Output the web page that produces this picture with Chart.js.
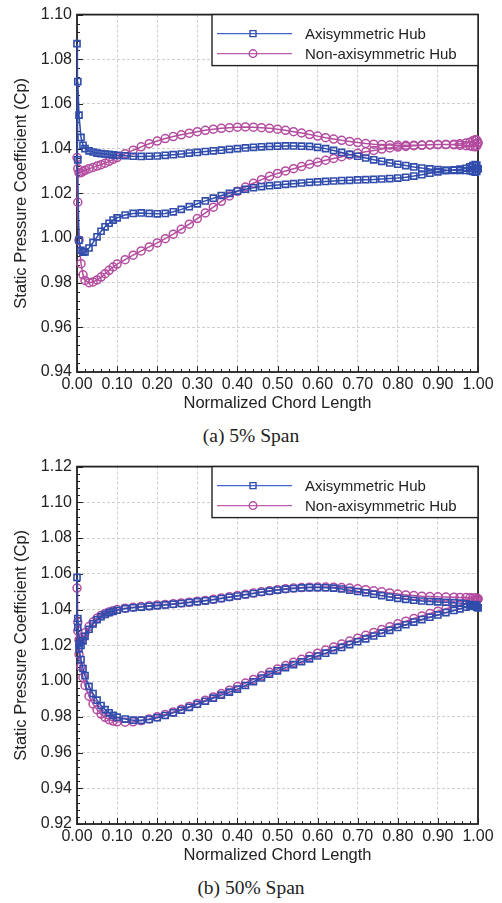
<!DOCTYPE html>
<html>
<head>
<meta charset="utf-8">
<script src="https://cdn.jsdelivr.net/npm/chart.js@4"></script>
<style>
  body { margin: 0; background: #fff; }
  .wrap { position: relative; width: 502px; height: 903px; }
  canvas { position: absolute; left: 0; }
  .caption {
    position: absolute; left: 0; width: 502px; text-align: center;
    font-family: "Liberation Serif", "Times New Roman", serif;
    font-size: 19.5px; color: #222; line-height: 22px;
  }
</style>
</head>
<body>
<div class="wrap">
  <canvas id="span5" width="502" height="420" style="top:0"></canvas>
  <div class="caption" style="top:425px">(a) 5% Span</div>
  <canvas id="span50" width="502" height="420" style="top:452px"></canvas>
  <div class="caption" style="top:877px">(b) 50% Span</div>
</div>
<script>
// chord stations (x/c), clustered at leading and trailing edge
const chord = [
  0, 0.002, 0.005, 0.01, 0.015, 0.02, 0.03, 0.04, 0.05, 0.06, 0.07, 0.08, 0.09,
  0.10, 0.12, 0.14, 0.16, 0.18, 0.20, 0.22, 0.24, 0.26, 0.28, 0.30, 0.32, 0.34,
  0.36, 0.38, 0.40, 0.42, 0.44, 0.46, 0.48, 0.50, 0.52, 0.54, 0.56, 0.58, 0.60,
  0.62, 0.64, 0.66, 0.68, 0.70, 0.72, 0.74, 0.76, 0.78, 0.80, 0.82, 0.84, 0.86,
  0.88, 0.90, 0.92, 0.94, 0.955, 0.97, 0.98, 0.987, 0.993, 0.997, 1.0
];

// 5% span - axisymmetric hub
const axi5Upper = [
  1.087, 1.070, 1.055, 1.045, 1.0415, 1.040, 1.039, 1.0385, 1.038, 1.0378, 1.0376, 1.0374, 1.0372,
  1.037, 1.0368, 1.0366, 1.0365, 1.0366, 1.0367, 1.037, 1.0373, 1.0376, 1.038, 1.0383, 1.0387, 1.039,
  1.0393, 1.0397, 1.040, 1.0403, 1.0406, 1.0408, 1.041, 1.0411, 1.0412, 1.0412, 1.0411, 1.041, 1.0406,
  1.040, 1.0392, 1.0383, 1.0374, 1.0366, 1.0358, 1.035, 1.0343, 1.0336, 1.033, 1.0324, 1.0318, 1.0313,
  1.0309, 1.0306, 1.0304, 1.0303, 1.0302, 1.0302, 1.0301, 1.0298, 1.0295, 1.0298, 1.031
];
const axi5Lower = [
  1.087, 1.035, 0.999, 0.9945, 0.9937, 0.9938, 0.9955, 0.998, 1.0005, 1.003, 1.005, 1.0066, 1.008,
  1.009, 1.0103, 1.011, 1.0112, 1.011, 1.0108, 1.011, 1.0117, 1.0128, 1.014, 1.0153, 1.0166, 1.0178,
  1.019, 1.020, 1.021, 1.0218, 1.0225, 1.023, 1.0234, 1.0237, 1.024, 1.0243, 1.0246, 1.0249, 1.0251,
  1.0253, 1.0255, 1.0257, 1.0258, 1.026, 1.0261, 1.0262, 1.0264, 1.0266, 1.0268, 1.0272, 1.0277, 1.0283,
  1.029, 1.0296, 1.0301, 1.0305, 1.0308, 1.0312, 1.0318, 1.0324, 1.0328, 1.0326, 1.031
];

// 5% span - non-axisymmetric hub
const non5Upper = [
  1.036, 1.031, 1.0292, 1.0292, 1.0298, 1.0303, 1.031, 1.0316, 1.0322, 1.0328, 1.0335, 1.0343, 1.0352,
  1.036, 1.0377, 1.0393, 1.0408, 1.0422, 1.0434, 1.0445, 1.0454, 1.0462, 1.0469, 1.0476, 1.0482, 1.0487,
  1.0491, 1.0494, 1.0496, 1.0497, 1.0496, 1.0494, 1.0491, 1.0487, 1.0482, 1.0476, 1.047, 1.0463, 1.0456,
  1.0449, 1.0443, 1.0437, 1.0432, 1.0427, 1.0423, 1.042, 1.0418, 1.0416, 1.0415, 1.0415, 1.0415, 1.0416,
  1.0417, 1.0418, 1.0419, 1.042, 1.0422, 1.0425, 1.0429, 1.0435, 1.044, 1.0438, 1.0426
];
const non5Lower = [
  1.036, 1.016, 0.999, 0.9885, 0.9835, 0.981, 0.980, 0.9803, 0.9812, 0.9825, 0.984, 0.9855, 0.987,
  0.9883, 0.9903, 0.9923, 0.9942, 0.996, 0.9978, 0.9997, 1.0017, 1.0039, 1.0062, 1.0087, 1.0112, 1.0138,
  1.0164, 1.0188, 1.0209, 1.0228, 1.0245, 1.0261, 1.0276, 1.0289, 1.030, 1.031, 1.032, 1.033, 1.0339,
  1.0348, 1.0356, 1.0364, 1.0372, 1.0379, 1.0386, 1.0392, 1.0398, 1.0403, 1.0407, 1.041, 1.0413, 1.0415,
  1.0417, 1.0418, 1.0418, 1.0417, 1.0415, 1.0413, 1.0412, 1.041, 1.0408, 1.0412, 1.0426
];

// 50% span - axisymmetric hub
const axi50Upper = [
  1.058, 1.035, 1.021, 1.020, 1.0225, 1.025, 1.029, 1.032, 1.0343, 1.036, 1.0373, 1.0383, 1.039,
  1.0396, 1.0405, 1.041, 1.0414, 1.0418, 1.0422, 1.0426, 1.043, 1.0434, 1.0439, 1.0444, 1.0449, 1.0455,
  1.0462, 1.0469, 1.0476, 1.0483, 1.049, 1.0497, 1.0503, 1.0509, 1.0514, 1.0518, 1.0521, 1.0523, 1.0523,
  1.0522, 1.052, 1.0515, 1.0508, 1.0501, 1.0494, 1.0486, 1.0478, 1.047, 1.0463, 1.0457, 1.0452, 1.0448,
  1.0445, 1.0443, 1.0441, 1.0439, 1.0436, 1.0432, 1.0428, 1.0424, 1.0418, 1.0413, 1.041
];
const axi50Lower = [
  1.058, 1.030, 1.018, 1.012, 1.007, 1.003, 0.997, 0.993, 0.9893, 0.9863, 0.984, 0.9822, 0.9808,
  0.9798, 0.9787, 0.9781, 0.978, 0.9785, 0.9795, 0.9807, 0.9822, 0.9837, 0.9853, 0.987, 0.9887, 0.9904,
  0.9921, 0.9938, 0.9955, 0.9975, 0.9996, 1.0017, 1.0038, 1.0057, 1.0075, 1.0092, 1.0108, 1.0124, 1.014,
  1.0156, 1.0172, 1.0188, 1.0204, 1.022, 1.0236, 1.0252, 1.0268, 1.0284, 1.030, 1.0315, 1.033, 1.0344,
  1.0357, 1.037, 1.0383, 1.0395, 1.0404, 1.0413, 1.0419, 1.0424, 1.0427, 1.0423, 1.041
];

// 50% span - non-axisymmetric hub
const non50Upper = [
  1.052, 1.033, 1.023, 1.022, 1.0245, 1.027, 1.0305, 1.033, 1.0352, 1.0367, 1.0378, 1.0387, 1.0394,
  1.040, 1.0408, 1.0413, 1.0417, 1.0421, 1.0425, 1.0429, 1.0433, 1.0437, 1.0441, 1.0446, 1.0451, 1.0457,
  1.0464, 1.0471, 1.0478, 1.0485, 1.0492, 1.0499, 1.0505, 1.0511, 1.0516, 1.052, 1.0523, 1.0525, 1.0526,
  1.0526, 1.0525, 1.0523, 1.052, 1.0516, 1.0511, 1.0505, 1.0499, 1.0493, 1.0487, 1.0482, 1.0478, 1.0475,
  1.0473, 1.0471, 1.047, 1.0469, 1.0468, 1.0467, 1.0466, 1.0465, 1.0465, 1.0463, 1.046
];
const non50Lower = [
  1.052, 1.028, 1.015, 1.008, 1.002, 0.9975, 0.9915, 0.9872, 0.984, 0.9815, 0.9797, 0.9784, 0.9776,
  0.9772, 0.977, 0.9772, 0.9778, 0.9788, 0.980, 0.9813, 0.9827, 0.9842, 0.9858, 0.9875, 0.9893, 0.9911,
  0.993, 0.9949, 0.9969, 0.9989, 1.0009, 1.0029, 1.0049, 1.0068, 1.0087, 1.0105, 1.0122, 1.0139, 1.0156,
  1.0173, 1.019, 1.0207, 1.0224, 1.024, 1.0256, 1.0272, 1.0288, 1.0304, 1.032, 1.0335, 1.035, 1.0364,
  1.0378, 1.0391, 1.0404, 1.0416, 1.0425, 1.0434, 1.044, 1.0446, 1.045, 1.0455, 1.046
];

const seriesNames = ["Axisymmetric Hub", "Non-axisymmetric Hub"];
const BLUE = "rgb(48, 76, 172)";
const MAGENTA = "rgb(180, 76, 160)";
const FONT = '"Liberation Sans", Arial, sans-serif';

// closed loop around the blade: TE -> upper -> LE -> lower -> TE
function loop(upper, lower) {
  const pts = [];
  for (let i = upper.length - 1; i >= 0; i--) pts.push({ x: chord[i], y: upper[i] });
  for (let i = 1; i < lower.length; i++) pts.push({ x: chord[i], y: lower[i] });
  return pts;
}

// black box around the plot + small inward ticks
const frame = {
  id: "frame",
  beforeDatasetsDraw(chart, args, opts) {
    const { ctx, chartArea: a, scales } = chart;
    ctx.save();
    ctx.strokeStyle = "#222";
    ctx.lineWidth = 1;
    ctx.beginPath();
    for (let v = 0; v <= 1.0001; v += 0.02) {
      const px = Math.round(scales.x.getPixelForValue(v)) + 0.5;
      const len = Math.abs(v * 10 - Math.round(v * 10)) < 1e-6 ? 6 : 3;
      ctx.moveTo(px, a.bottom);
      ctx.lineTo(px, a.bottom - len);
    }
    const y = scales.y;
    for (let v = y.min; v <= y.max + 1e-9; v += opts.minorY) {
      const py = Math.round(y.getPixelForValue(v)) + 0.5;
      const r = (v - y.min) / 0.02;
      const len = Math.abs(r - Math.round(r)) < 1e-6 ? 6 : 3;
      ctx.moveTo(a.left, py);
      ctx.lineTo(a.left + len, py);
    }
    ctx.stroke();
    ctx.lineWidth = 1.8;
    ctx.strokeRect(a.left, a.top, a.right - a.left, a.bottom - a.top);
    ctx.restore();
  }
};

// boxed legend in the top right corner of the plot
const boxLegend = {
  id: "boxLegend",
  afterDraw(chart) {
    const { ctx, chartArea: a } = chart;
    const x0 = 212, w = a.right - x0, h = 51;
    ctx.save();
    ctx.fillStyle = "#fff";
    ctx.fillRect(x0, a.top, w, h);
    ctx.strokeStyle = "#222";
    ctx.lineWidth = 1.4;
    ctx.strokeRect(x0, a.top, w, h);
    chart.data.datasets.forEach((ds, i) => {
      const yy = a.top + 19 + i * 20;
      ctx.strokeStyle = ds.legendColor;
      ctx.lineWidth = 1.4;
      ctx.beginPath();
      ctx.moveTo(x0 + 5, yy);
      ctx.lineTo(x0 + 80, yy);
      ctx.stroke();
      ctx.strokeStyle = ds.borderColor;
      ctx.beginPath();
      if (ds.pointStyle === "rect") ctx.rect(x0 + 38, yy - 3, 6, 6);
      else ctx.arc(x0 + 41, yy, 3.8, 0, Math.PI * 2);
      ctx.stroke();
      ctx.fillStyle = "#222";
      ctx.font = "15px " + FONT;
      ctx.textBaseline = "middle";
      ctx.fillText(ds.label, x0 + 93, yy + 1);
    });
    ctx.restore();
  }
};

function makeChart(id, axiUp, axiLo, nonUp, nonLo, yMin, yMax, minorY) {
  new Chart(document.getElementById(id), {
    type: "scatter",
    data: {
      datasets: [
        {
          label: seriesNames[0],
          data: loop(axiUp, axiLo),
          showLine: true,
          borderColor: BLUE,
          legendColor: "rgb(70, 100, 205)",
          borderWidth: 1.5,
          pointStyle: "rect",
          pointRadius: 4.3,
          pointBorderWidth: 1.6,
          pointBackgroundColor: "rgba(255,255,255,0)",
          clip: false
        },
        {
          label: seriesNames[1],
          data: loop(nonUp, nonLo),
          showLine: true,
          borderColor: MAGENTA,
          legendColor: "rgb(190, 92, 172)",
          borderWidth: 1.5,
          pointStyle: "circle",
          pointRadius: 4,
          pointBorderWidth: 1.5,
          pointBackgroundColor: "rgba(255,255,255,0)",
          clip: false
        }
      ]
    },
    options: {
      responsive: false,
      animation: false,
      devicePixelRatio: 1,
      layout: { padding: { top: 13, right: 24, left: 0, bottom: 0 } },
      plugins: { legend: { display: false }, tooltip: { enabled: false }, frame: { minorY } },
      scales: {
        x: {
          type: "linear",
          min: 0,
          max: 1,
          afterFit: (s) => { s.height = 48; },
          ticks: {
            stepSize: 0.1,
            autoSkip: false,
            maxRotation: 0,
            padding: 3,
            color: "#222",
            font: { family: FONT, size: 16 },
            callback: (v) => v.toFixed(2)
          },
          grid: { color: "#cfcfcf", lineWidth: 1, drawTicks: false },
          border: { display: false, dash: [3, 2] },
          title: {
            display: true,
            text: "Normalized Chord Length",
            color: "#222",
            font: { family: FONT, size: 16.5 },
            padding: { top: 0, bottom: 7 }
          }
        },
        y: {
          min: yMin,
          max: yMax,
          afterFit: (s) => { s.width = 77; },
          ticks: {
            stepSize: 0.02,
            padding: 5,
            color: "#222",
            font: { family: FONT, size: 16 },
            callback: (v) => v.toFixed(2)
          },
          grid: { color: "#cfcfcf", lineWidth: 1, drawTicks: false },
          border: { display: false, dash: [3, 2] },
          title: {
            display: true,
            text: "Static Pressure Coefficient (Cp)",
            color: "#222",
            font: { family: FONT, size: 16.5 },
            padding: { top: 12, bottom: 0 }
          }
        }
      }
    },
    plugins: [frame, boxLegend]
  });
}

makeChart("span5", axi5Upper, axi5Lower, non5Upper, non5Lower, 0.94, 1.10, 0.004);
makeChart("span50", axi50Upper, axi50Lower, non50Upper, non50Lower, 0.92, 1.12, 0.004);
</script>
</body>
</html>
